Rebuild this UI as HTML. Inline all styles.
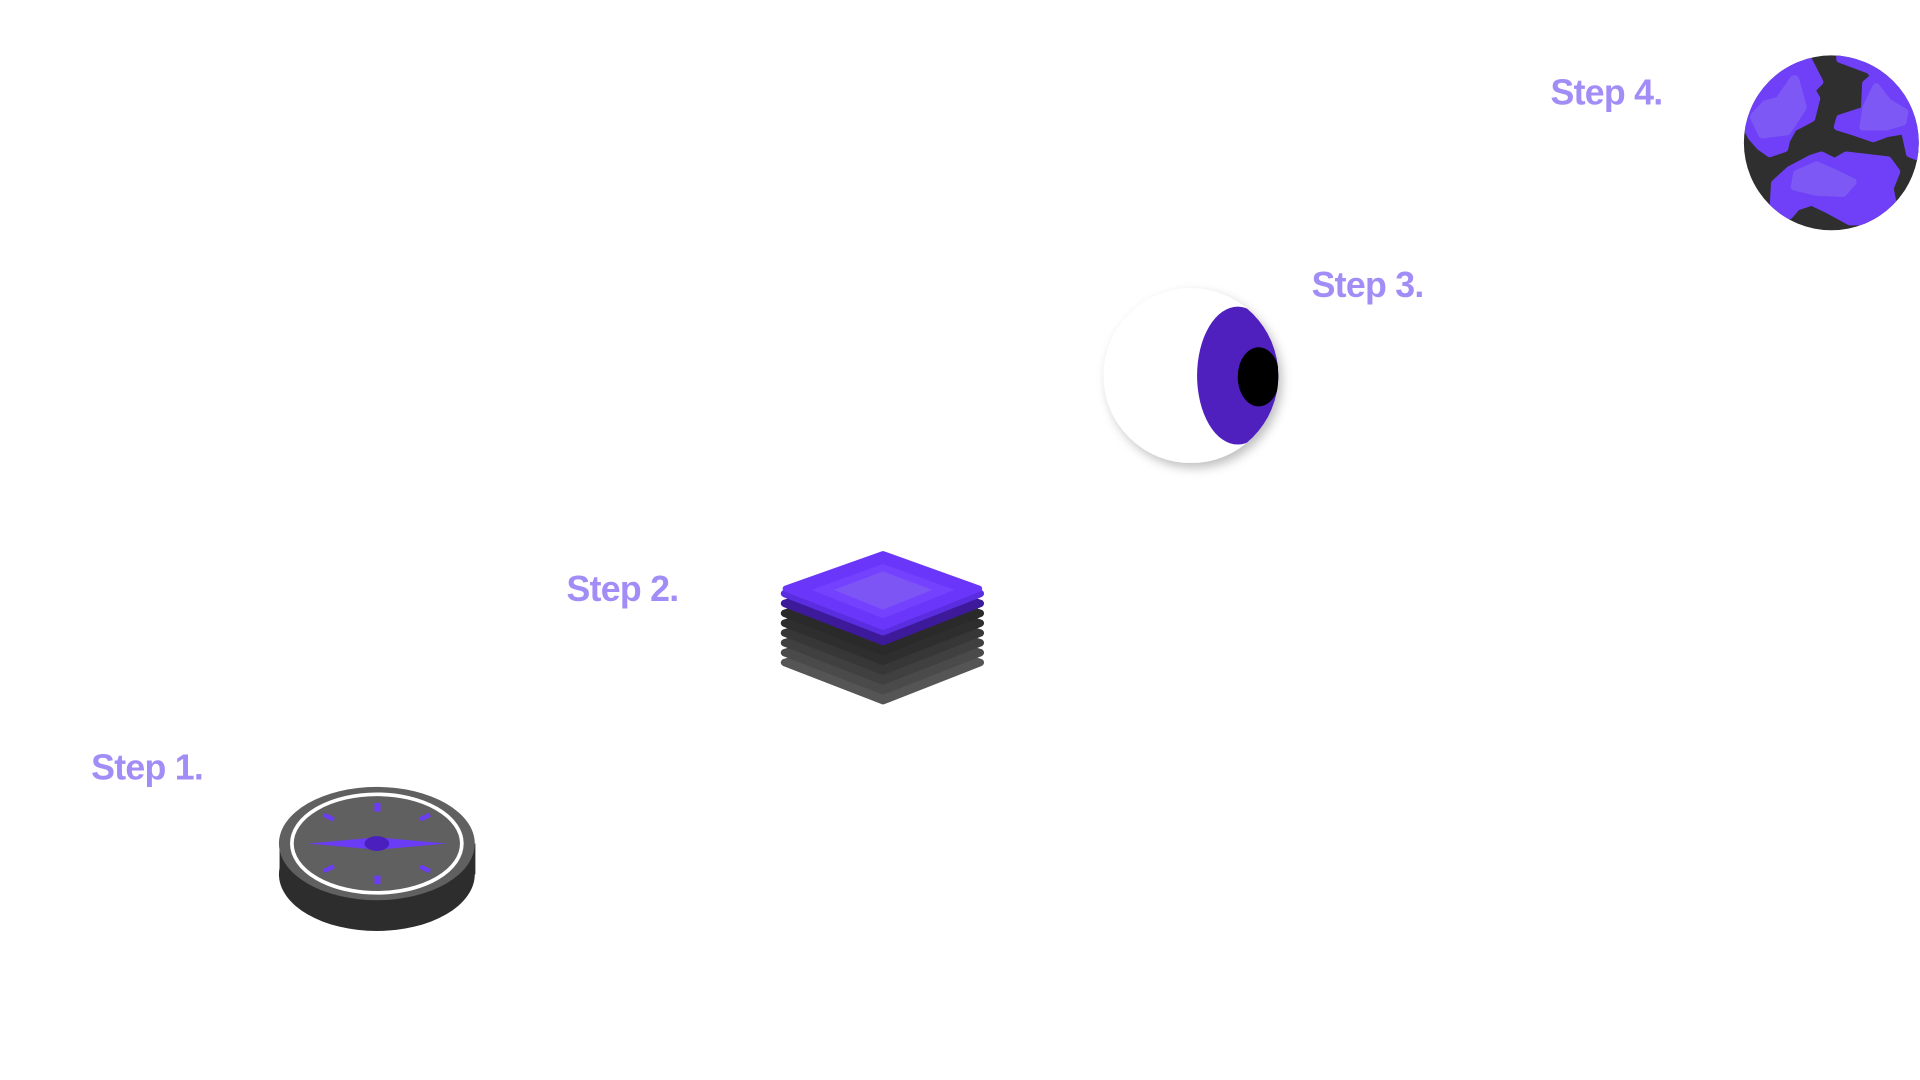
<!DOCTYPE html>
<html><head><meta charset="utf-8"><style>
html,body{margin:0;padding:0;background:#fff;width:1920px;height:1080px;overflow:hidden}
svg{display:block}
text{font-family:"Liberation Sans",sans-serif;font-weight:bold;font-size:29px;fill:#a28df7;letter-spacing:-0.6px}
</style></head><body>
<svg width="1920" height="1080" viewBox="0 0 1559 877" preserveAspectRatio="none">
<defs>
<clipPath id="g"><circle cx="0" cy="0" r="71"/></clipPath>
<clipPath id="e"><circle cx="967" cy="305" r="71"/></clipPath>
<filter id="sh" x="-30%" y="-30%" width="160%" height="160%"><feDropShadow dx="3" dy="4" stdDeviation="4" flood-color="#000" flood-opacity="0.25"/></filter>
</defs>
<text x="1259" y="85">Step 4.</text>
<text x="1065" y="241">Step 3.</text>
<text x="460" y="488">Step 2.</text>
<text x="74" y="633">Step 1.</text>

<!-- globe -->
<g transform="translate(1487,116)">
<circle cx="0" cy="0" r="71" fill="#2f2f2f"/>
<g clip-path="url(#g)" stroke-linejoin="round">
<path d="M-19 -75 L-19 -68 L-9.5 -49.5 L-16 -43 L-12 -36 L-16 -20 L-31 -12 L-36.5 -2 L-38 4.6 L-50 8.7 L-58 3 L-65 -5 L-69 -13 L-80 -20 L-60 -80Z" fill="#7040f8" stroke="#7040f8" stroke-width="6"/>
<path d="M-30 -51 L-24 -29 L-36.5 -10 L-55.6 -7.6 L-62 -21 L-53 -30.6 L-42 -33.6Z" fill="#7d58f5" stroke="#7d58f5" stroke-width="8"/>
<path d="M7 -80 L7 -68 L31 -59 L35 -54 L28 -48 L27 -26.5 L7 -20 L5 -13 L15 -10 L34 -3.5 L45 -7.6 L59.5 -10 L63.6 8.7 L69 11 L85 0 L60 -80Z" fill="#7040f8" stroke="#7040f8" stroke-width="6"/>
<path d="M36.5 -45.5 L46 -33 L59.5 -25 L58 -17 L44.6 -13 L25.7 -13 L28.4 -29Z" fill="#7d58f5" stroke="#7d58f5" stroke-width="6"/>
<path d="M-46 33 L-34 22 L-16.5 12.7 L-8 10 L2.7 15.4 L12 10 L46 14 L53 23.5 L47.6 37 L50 49 L28.4 64 L15 64 L-1.4 55 L-16 48 L-28 52 L-34 59 L-47 50.6Z" fill="#7040f8" stroke="#7040f8" stroke-width="6"/>
<path d="M-12 18 L4 25 L17.6 31.7 L9.5 41 L-12 40 L-30 35.7 L-28 25Z" fill="#7d58f5" stroke="#7d58f5" stroke-width="6"/>
</g>
</g>

<!-- eye -->
<circle cx="967" cy="305" r="71" fill="#fff" filter="url(#sh)"/>
<g clip-path="url(#e)">
<ellipse cx="1005" cy="305" rx="33" ry="56" fill="#5020bf"/>
<ellipse cx="1022" cy="306" rx="17" ry="24" fill="#000"/>
</g>

<!-- stack -->
<g stroke-linejoin="round" stroke-width="6">
<path d="M717 514 L796 538 L717 569 L637 538Z" fill="#555" stroke="#555"/>
<path d="M717 506 L796 530 L717 561 L637 530Z" fill="#4a4a4a" stroke="#4a4a4a"/>
<path d="M717 498 L796 522 L717 553 L637 522Z" fill="#404040" stroke="#404040"/>
<path d="M717 490 L796 514 L717 545 L637 514Z" fill="#373737" stroke="#373737"/>
<path d="M717 482 L796 506 L717 537 L637 506Z" fill="#2e2e2e" stroke="#2e2e2e"/>
<path d="M717 474 L796 498 L717 529 L637 498Z" fill="#2a2a2a" stroke="#2a2a2a"/>
<path d="M717 465 L796 490 L717 521 L637 490Z" fill="#3d1a99" stroke="#3d1a99"/>
<path d="M717 456 L796 482 L717 513 L637 482Z" fill="#5a2ee0" stroke="#5a2ee0"/>
<path d="M717 450 L795 478 L717 509 L638 478Z" fill="#6a36fa" stroke="#6a36fa" stroke-width="5"/>
<path d="M717 458 L775 479 L717 502 L659 479Z" fill="#7442ff" stroke="none"/>
<path d="M717 464 L757 479 L717 495 L677 479Z" fill="#7d55f5" stroke="none"/>
</g>

<!-- compass -->
<rect x="227" y="685" width="159" height="25" fill="#2d2d2d"/>
<ellipse cx="306" cy="710" rx="79.5" ry="46" fill="#2d2d2d"/>
<ellipse cx="306" cy="685" rx="79.5" ry="46" fill="#606060"/>
<ellipse cx="306" cy="685" rx="69" ry="40" fill="none" stroke="#fff" stroke-width="3"/>
<path d="M250 685 L306 680 L363 685 L306 690Z" fill="#6b3cf5"/>
<ellipse cx="306" cy="685" rx="10" ry="6" fill="#4b1fbe"/>
<g fill="#6b3cf5">
<rect x="304" y="652" width="5" height="7"/>
<rect x="304" y="711" width="5" height="7"/>
<path d="M264 660 L272 664 L270 667 L262 663Z"/>
<path d="M348 660 L340 664 L342 667 L350 663Z"/>
<path d="M264 709 L272 705 L270 702 L262 706Z"/>
<path d="M348 709 L340 705 L342 702 L350 706Z"/>
</g>
</svg>
</body></html>
